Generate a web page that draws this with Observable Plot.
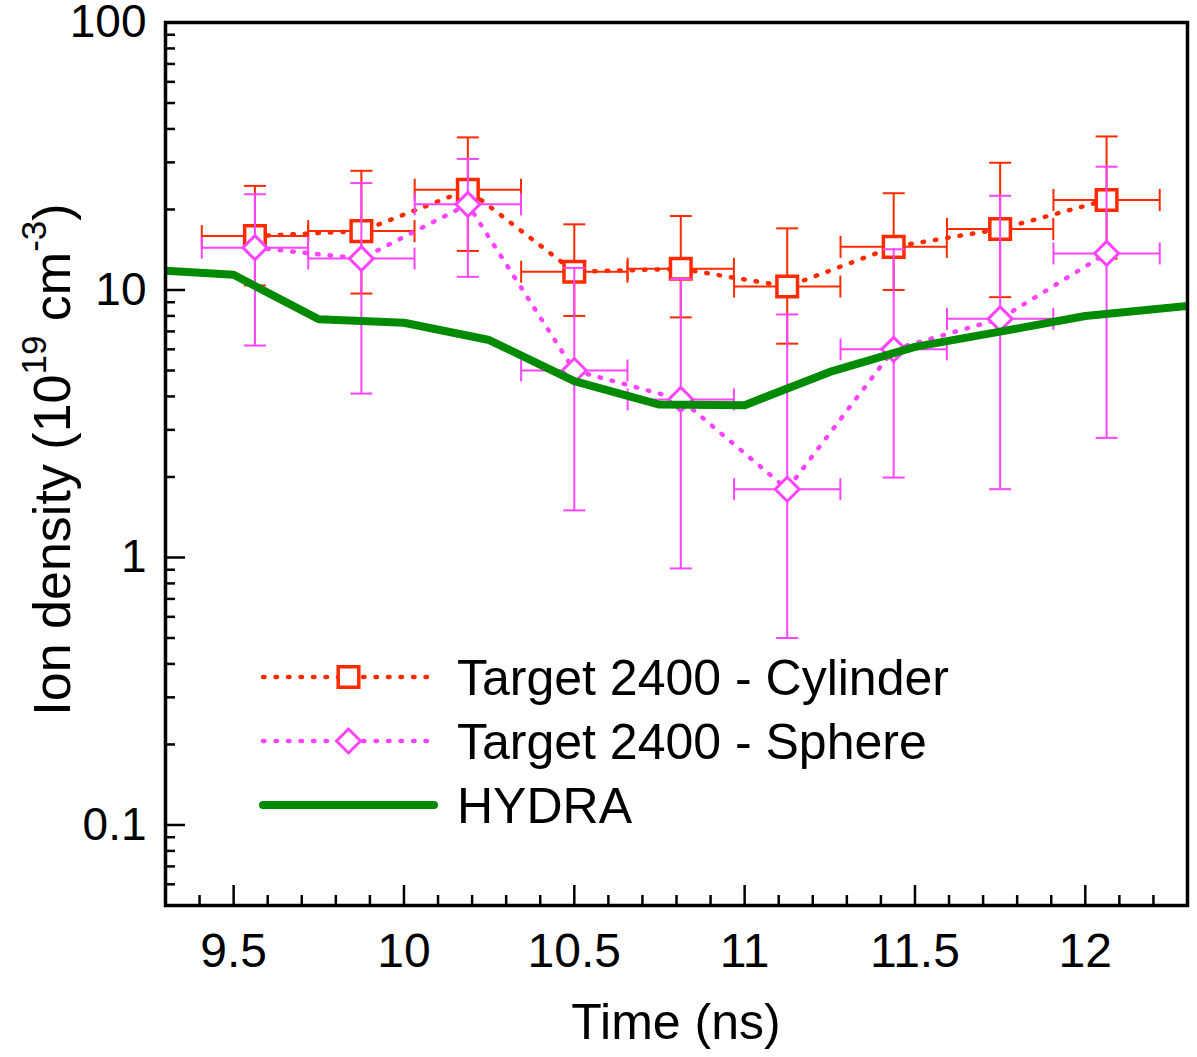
<!DOCTYPE html>
<html>
<head>
<meta charset="utf-8">
<script src="https://cdn.jsdelivr.net/npm/d3@7"></script>
<script src="https://cdn.jsdelivr.net/npm/@observablehq/plot@0.6"></script>
<style>
  html, body { margin: 0; padding: 0; background: #fff; }
  #chart { width: 1197px; height: 1057px; }
</style>
</head>
<body>
<div id="chart"></div>
<script>
// ---------------- data ----------------
const times        = [9.5625, 9.875, 10.1875, 10.5, 10.8125, 11.125, 11.4375, 11.75, 12.0625];
const timeError    = [0.156, 0.156, 0.156, 0.156, 0.156, 0.156, 0.156, 0.156, 0.156];

const cylinder     = [15.9, 16.6, 23.7, 11.7, 12.0, 10.3, 14.5, 16.9, 21.7];
const cylinderHigh = [24.5, 27.9, 37.2, 17.6, 18.9, 17.0, 23.0, 29.9, 37.5];
const cylinderLow  = [10.4, 9.7, 14.0, 8.0, 7.9, 6.3, 10.0, 9.4, 13.1];

const sphere       = [14.4, 13.1, 20.9, 5.0, 3.9, 1.80, 6.0, 7.8, 13.7];
const sphereHigh   = [22.8, 25.1, 30.9, 12.1, 11.0, 8.1, 14.2, 22.5, 28.9];
const sphereLow    = [6.2, 4.1, 11.2, 1.50, 0.91, 0.50, 1.99, 1.80, 2.8];

const hydraTime    = [9.3, 9.5, 9.75, 10, 10.25, 10.5, 10.75, 11, 11.25, 11.5, 11.75, 12, 12.3];
const hydraDensity = [11.8, 11.4, 7.77, 7.54, 6.50, 4.56, 3.73, 3.71, 4.94, 6.13, 6.99, 7.99, 8.71];

const xTicks       = [9.5, 10, 10.5, 11, 11.5, 12];
const xTickLabels  = ["9.5", "10", "10.5", "11", "11.5", "12"];
const yTicks       = [0.1, 1, 10, 100];
const yTickLabels  = ["0.1", "1", "10", "100"];

const seriesNames  = ["Target 2400 - Cylinder", "Target 2400 - Sphere", "HYDRA"];
const xTitle       = "Time (ns)";

// ---------------- styling ----------------
const W = 1197, H = 1057;
const mL = 165, mR = 10, mT = 22, mB = 152;
const plotW = W - mL - mR, plotH = H - mT - mB;
const RED = "#ff2a00", MAG = "#ff44ff", GREEN = "#008a00";
const FONT = "'Liberation Sans', Arial, Helvetica, sans-serif";

// minor ticks (axis decoration)
const yMinor = [];
[0.01, 0.1, 1, 10].forEach(dec => { for (let k = 2; k <= 9; k++) { const v = k * dec; if (v >= 0.05 && v < 100) yMinor.push(+v.toPrecision(3)); } });
const xMinor = d3.range(93, 124).map(v => v / 10).filter(v => !xTicks.includes(v));

const rows = times.map((t, i) => ({
  t, lo: t - timeError[i], hi: t + timeError[i],
  c: cylinder[i], cHi: cylinderHigh[i], cLo: cylinderLow[i],
  s: sphere[i], sHi: sphereHigh[i], sLo: sphereLow[i]
}));
const hydra = hydraTime.map((t, i) => ({t, v: hydraDensity[i]}));

// custom symbols; Plot passes size = pi*r^2
const hCap = {draw(ctx, size) { const r = Math.sqrt(size / Math.PI); ctx.moveTo(-r, 0); ctx.lineTo(r, 0); }};
const vCap = {draw(ctx, size) { const r = Math.sqrt(size / Math.PI); ctx.moveTo(0, -r); ctx.lineTo(0, r); }};
const squareSym = {draw(ctx, size) { const r = Math.sqrt(size / Math.PI); ctx.moveTo(-r, -r); ctx.lineTo(r, -r); ctx.lineTo(r, r); ctx.lineTo(-r, r); ctx.closePath(); }};
const diamondSym = {draw(ctx, size) { const r = Math.sqrt(size / Math.PI); ctx.moveTo(0, -r); ctx.lineTo(r, 0); ctx.lineTo(0, r); ctx.lineTo(-r, 0); ctx.closePath(); }};

function errorMarks(color, yKey, hiKey, loKey) {
  return [
    Plot.ruleX(rows, {x: "t", y1: loKey, y2: hiKey, stroke: color, strokeWidth: 2}),
    Plot.ruleY(rows, {y: yKey, x1: "lo", x2: "hi", stroke: color, strokeWidth: 2}),
    Plot.dot(rows, {x: "t", y: hiKey, symbol: hCap, r: 11, stroke: color, strokeWidth: 2, fill: "none"}),
    Plot.dot(rows, {x: "t", y: loKey, symbol: hCap, r: 11, stroke: color, strokeWidth: 2, fill: "none"}),
    Plot.dot(rows, {x: "lo", y: yKey, symbol: vCap, r: 11, stroke: color, strokeWidth: 2, fill: "none"}),
    Plot.dot(rows, {x: "hi", y: yKey, symbol: vCap, r: 11, stroke: color, strokeWidth: 2, fill: "none"})
  ];
}

const dotted = {strokeWidth: 4.5, strokeDasharray: "1.5,11", strokeLinecap: "round"};

const chart = Plot.plot({
  width: W, height: H,
  marginLeft: mL, marginRight: mR, marginTop: mT, marginBottom: mB,
  style: {fontFamily: FONT, background: "#fff", color: "#000", overflow: "visible"},
  x: {domain: [9.3, 12.3]},
  y: {type: "log", domain: [0.05, 100]},
  marks: [
    // cylinder
    ...errorMarks(RED, "c", "cHi", "cLo"),
    Plot.line(rows, {x: "t", y: "c", stroke: RED, ...dotted}),
    Plot.dot(rows, {x: "t", y: "c", symbol: squareSym, r: 10.3, stroke: RED, strokeWidth: 3.5, fill: "white"}),
    // sphere
    ...errorMarks(MAG, "s", "sHi", "sLo"),
    Plot.line(rows, {x: "t", y: "s", stroke: MAG, ...dotted}),
    Plot.dot(rows, {x: "t", y: "s", symbol: diamondSym, r: 12, stroke: MAG, strokeWidth: 3, fill: "white"}),
    // HYDRA
    Plot.line(hydra, {x: "t", y: "v", stroke: GREEN, strokeWidth: 8, clip: true}),
    // ticks (inward)
    Plot.tickY(yTicks, {y: d => d, insetRight: plotW - 20, stroke: "black", strokeWidth: 2.5}),
    Plot.tickY(yMinor, {y: d => d, insetRight: plotW - 10, stroke: "black", strokeWidth: 2.5}),
    Plot.tickX(xTicks, {x: d => d, insetTop: plotH - 20, stroke: "black", strokeWidth: 2.5}),
    Plot.tickX(xMinor, {x: d => d, insetTop: plotH - 10, stroke: "black", strokeWidth: 2.5}),
    Plot.axisY({ticks: yTicks, tickSize: 0, tickPadding: 19, fontSize: 46, label: null,
      tickFormat: d => yTickLabels[yTicks.indexOf(d)]}),
    Plot.axisX({ticks: xTicks, tickSize: 0, tickPadding: 27, fontSize: 48, label: null,
      tickFormat: d => xTickLabels[xTicks.indexOf(d)]}),
    Plot.frame({stroke: "black", strokeWidth: 3.5})
  ]
});

const svg = d3.select(chart);

// x title
svg.append("text")
  .attr("x", mL + plotW / 2).attr("y", 1039)
  .attr("text-anchor", "middle").attr("font-size", 50).attr("font-family", FONT).attr("fill", "#000")
  .text(xTitle);

// y title with superscripts
const yt = svg.append("text")
  .attr("transform", `translate(70,${mT + plotH / 2 - 4}) rotate(-90)`)
  .attr("text-anchor", "middle").attr("font-size", 52).attr("font-family", FONT).attr("fill", "#000");
yt.append("tspan").text("Ion density (10");
yt.append("tspan").attr("dy", -24).attr("font-size", 35).text("19");
yt.append("tspan").attr("dy", 24).text(" cm");
yt.append("tspan").attr("dy", -24).attr("font-size", 35).text("-3");
yt.append("tspan").attr("dy", 24).text(")");

// legend
const lg = svg.append("g").attr("font-family", FONT).attr("font-size", 50).attr("text-anchor", "start");
const legendRows = [
  {y: 677, color: RED, dotted: true, sym: squareSym, r: 10.3, sw: 3.5, name: seriesNames[0]},
  {y: 741, color: MAG, dotted: true, sym: diamondSym, r: 12, sw: 3, name: seriesNames[1]},
  {y: 805, color: GREEN, dotted: false, name: seriesNames[2]}
];
legendRows.forEach(d => {
  const line = lg.append("line").attr("x1", 263).attr("x2", 434).attr("y1", d.y).attr("y2", d.y)
    .attr("stroke", d.color);
  if (d.dotted) {
    line.attr("stroke-width", 4.5).attr("stroke-dasharray", "1.5,11").attr("stroke-linecap", "round");
    lg.append("path")
      .attr("transform", `translate(348.5,${d.y})`)
      .attr("d", d3.symbol(d.sym, Math.PI * d.r * d.r)())
      .attr("fill", "white").attr("stroke", d.color).attr("stroke-width", d.sw);
  } else {
    line.attr("stroke-width", 8).attr("stroke-linecap", "round");
  }
  lg.append("text").attr("x", 457).attr("y", d.y + 18).attr("text-anchor", "start").attr("fill", "#000").text(d.name);
});

document.getElementById("chart").appendChild(chart);
</script>
</body>
</html>
